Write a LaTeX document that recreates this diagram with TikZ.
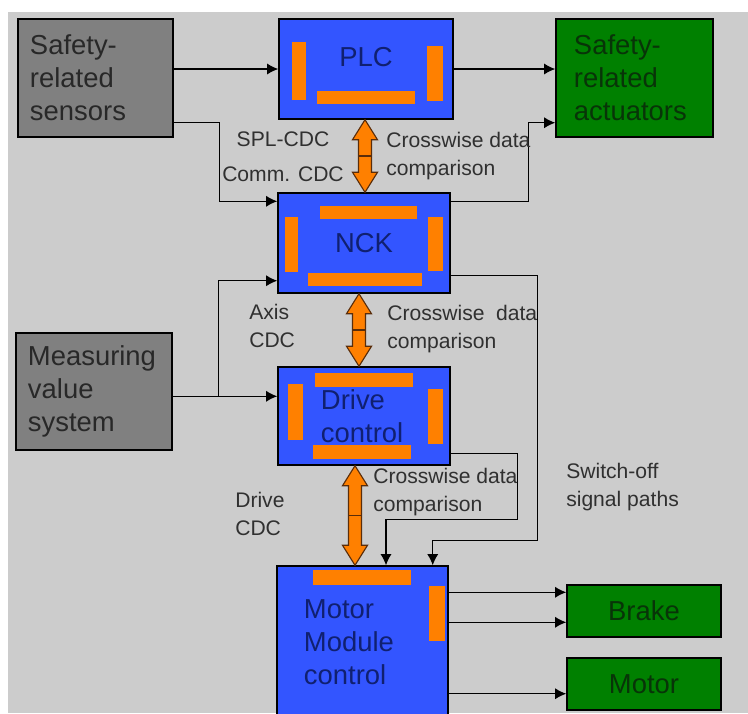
\documentclass[tikz,border=0pt]{standalone}
\usepackage{fontspec}
\setmainfont{Liberation Sans}
\usepackage{xcolor}
\usepackage{tikz}
\usetikzlibrary{calc, arrows.meta}

\definecolor{bggrey}{RGB}{204,204,204}
\definecolor{ctrlblue}{RGB}{51,85,255}
\definecolor{ctrltext}{RGB}{16,32,112}
\definecolor{srcgrey}{RGB}{128,128,128}
\definecolor{srctext}{RGB}{40,40,40}
\definecolor{actgreen}{RGB}{0,128,0}
\definecolor{acttext}{RGB}{8,52,8}
\definecolor{barorange}{RGB}{255,128,0}
\definecolor{cdcedge}{RGB}{90,45,10}
\definecolor{lbltext}{RGB}{48,48,48}

\begin{document}
\begin{tikzpicture}[
    x=0.025cm, y=-0.025cm,
    >={Latex[length=8pt,width=8pt]},
    blk/.style={draw=black, line width=1pt, inner sep=0pt, font=\fontsize{19.5}{23.5}\selectfont},
    ctrl/.style={blk, fill=ctrlblue, text=ctrltext},
    sensor/.style={blk, fill=srcgrey, text=srctext, align=left},
    actor/.style={blk, fill=actgreen, text=acttext},
    bar/.style={fill=barorange},
    flow/.style={->, line width=0.9pt},
    cdc/.style={fill=barorange, draw=cdcedge, line width=0.8pt},
    cdcmid/.style={draw=cdcedge, line width=0.8pt},
    lbl/.style={font=\fontsize{15}{19.5}\selectfont, text=lbltext, align=left, inner sep=0pt, anchor=base west},
]

\useasboundingbox (0,0) rectangle (748,713);
\clip (0,0) rectangle (748,713);
\fill[white] (0,0) rectangle (748,713);
\fill[bggrey] (8,12) rectangle (748,713);

% blocks
\node[sensor, minimum width=3.875cm, minimum height=2.95cm, text width=3.275cm] at (95.5,78) (sens) {Safety-\\related\\sensors};
\node[ctrl, minimum width=4.35cm, minimum height=2.5cm, text depth=0.6cm] at (366,69) (plc) {PLC};
\node[actor, minimum width=3.925cm, minimum height=2.95cm, text width=3.025cm, align=left] at (634.5,78) (act) {Safety-\\related\\actuators};
\node[ctrl, minimum width=4.3cm, minimum height=2.5cm] at (364,243) (nck) {NCK};
\node[sensor, minimum width=3.9cm, minimum height=2.925cm, text width=3.3cm] at (94,391.5) (meas) {Measuring\\value\\system};
\node[ctrl, minimum width=4.3cm, minimum height=2.45cm, text width=2.15cm, align=left] at (364,416) (drv) {Drive\\control};
\node[ctrl, minimum width=4.275cm, minimum height=3.8cm, text width=2.925cm, align=left] at (362.5,642) (mm) {Motor\\Module\\control};
\node[actor, minimum width=3.85cm, minimum height=1.3cm] at (644,611) (brk) {Brake};
\node[actor, minimum width=3.85cm, minimum height=1.3cm] at (644,684) (mot) {Motor};

% orange bars inside the controllers
\foreach \n/\dx/\dy/\w/\h in {plc/14/24/14/58, plc/149/28/16/55, plc/39/73/98/13,
    nck/43/14/97/13, nck/8/25/13/55, nck/151/25/15/54, nck/31/81/114/13,
    drv/38/7/98/14, drv/11/18/15/56, drv/151/23/15/55, drv/36/79/98/14,
    mm/37/5/98/15, mm/153/21/16/55}
    \fill[bar] ($(\n.north west)+(\dx,\dy)$) rectangle ++(\w,\h);

% signal lines
\coordinate (sensB)  at ($(sens.south east)+(0,-15)$);
\coordinate (nckA)   at ($(nck.north west)+(0,9)$);
\coordinate (nckR)   at ($(nck.north east)+(0,9)$);
\coordinate (actB)   at ($(act.south west)+(0,-15)$);
\coordinate (drvIn)  at ($(drv.north west)+(0,30)$);
\coordinate (nckIn)  at ($(nck.south west)+(0,-13)$);
\coordinate (nckOut) at ($(nck.south east)+(0,-18)$);
\coordinate (drvOut) at ($(drv.south east)+(0,-12)$);
\coordinate (mmInR)  at ($(mm.north east)+(-16,0)$);
\coordinate (mmInL)  at ($(mm.north)+(23.5,0)$);
\coordinate (mmO1)   at ($(mm.north east)+(0,27)$);
\coordinate (mmO2)   at ($(mm.north east)+(0,57)$);
\coordinate (motIn)  at ($(mot.south west)+(0,-17)$);

\draw[flow] (sens.east |- plc.west) -- (plc.west);
\draw[flow] (plc.east) -- (plc.east -| act.west);
\draw[flow] (sensB) -- ++(46,0) |- (nckA);
\draw[flow] (nckR) -- ++(78,0) |- (actB);
\draw[flow] (meas.east |- drvIn) -- (drvIn);
\draw[flow] ($(meas.east |- drvIn)+(46,0)$) |- (nckIn);
\draw[flow] (nckOut) -- ++(87,0) -- ++(0,265) -| (mmInR);
\draw[flow] (drvOut) -- ++(67,0) -- ++(0,66) -| (mmInL);
\foreach \c/\t in {mmO1/brk, mmO2/brk}
    \draw[flow] (\c) -- (\c -| \t.west);
\draw[flow] (mm.east |- motIn) -- (motIn);

% crosswise data comparison arrows
\foreach \a/\b/\x in {plc/nck/365, nck/drv/359, drv/mm/355} {
    \coordinate (ct) at (\x,0 |- \a.south);
    \coordinate (cb) at (\x,0 |- \b.north);
    \draw[cdc] (ct) -- ++(12.5,20) -- ++(-6,0) -- ($(cb)+(6.5,-20)$) -- ++(6,0) -- (cb)
        -- ++(-12.5,-20) -- ++(6,0) -- ($(ct)+(-6.5,20)$) -- ++(-6,0) -- cycle;
    \draw[cdcmid] ($(ct)!0.5!(cb)+(-6.5,0)$) -- ++(13,0);
}

% labels (anchored on the baseline of the last line)
\node[lbl, align=center, anchor=base] at (283,181) (splcdc) {SPL-CDC\\[4.7pt]Comm. CDC};
\node[lbl] at (386,175) (cmp1) {Crosswise data\\comparison};
\node[lbl] at (249,347) (axcdc) {Axis\\CDC};
\node[lbl] at (387,348) (cmp2) {Crosswise\hspace{0.55em}data\\comparison};
\node[lbl] at (373,511) (cmp3) {Crosswise data\\comparison};
\node[lbl] at (235,535) (drvcdc) {Drive\\CDC};
\node[lbl] at (566,506) (swoff) {Switch-off\\signal paths};

\end{tikzpicture}
\end{document}
